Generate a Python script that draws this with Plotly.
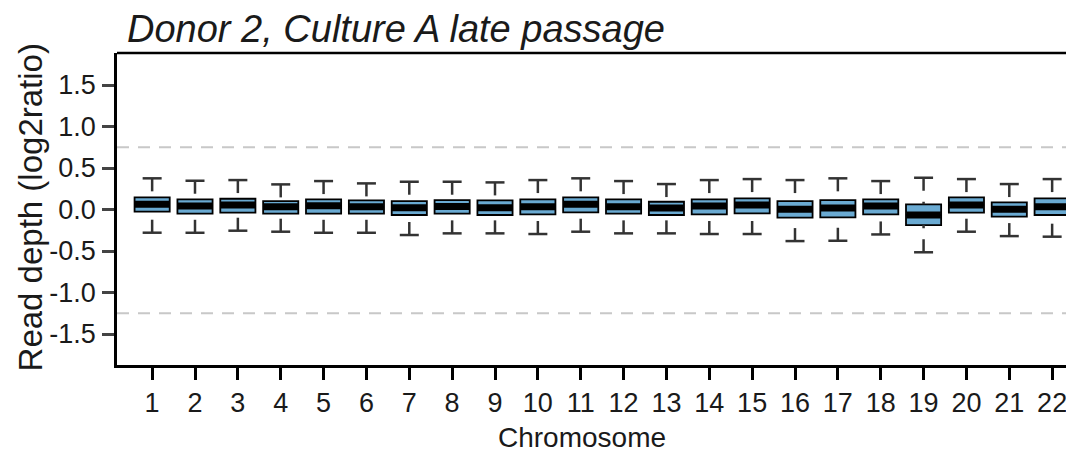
import plotly.graph_objects as go

# ---- data ----
chromosomes = list(range(1, 23))
tick_labels_x = [str(c) for c in chromosomes]
upper_whisker = [0.376, 0.347, 0.355, 0.303, 0.343, 0.315, 0.335, 0.335, 0.327, 0.355, 0.376,
                 0.343, 0.307, 0.355, 0.367, 0.355, 0.376, 0.343, 0.383, 0.367, 0.307, 0.367]
q3 = [0.147, 0.123, 0.130, 0.102, 0.123, 0.110, 0.102, 0.114, 0.110, 0.123, 0.147,
      0.123, 0.094, 0.123, 0.135, 0.102, 0.114, 0.123, 0.063, 0.147, 0.086, 0.135]
median = [0.063, 0.042, 0.054, 0.034, 0.046, 0.034, 0.022, 0.038, 0.022, 0.034, 0.063,
          0.034, 0.018, 0.042, 0.054, 0.002, 0.018, 0.042, -0.066, 0.054, 0.002, 0.034]
q1 = [-0.026, -0.050, -0.038, -0.050, -0.050, -0.050, -0.066, -0.050, -0.066, -0.058, -0.034,
      -0.050, -0.066, -0.058, -0.046, -0.098, -0.094, -0.058, -0.187, -0.038, -0.086, -0.066]
lower_whisker = [-0.279, -0.280, -0.255, -0.267, -0.280, -0.280, -0.307, -0.287, -0.287, -0.295, -0.267,
                 -0.287, -0.287, -0.295, -0.295, -0.380, -0.376, -0.300, -0.515, -0.267, -0.320, -0.327]
reference_levels = [0.75, -1.25]
y_tick_values = [1.5, 1.0, 0.5, 0.0, -0.5, -1.0, -1.5]
y_tick_labels = ["1.5", "1.0", "0.5", "0.0", "-0.5", "-1.0", "-1.5"]

FONT = "Liberation Sans, Arial, Helvetica, sans-serif"
BOX_FILL = "#6aaad2"
WHISKER = "#333333"
LINE_SYMBOL_SCALE = 1.4  # plotly draws line-ew symbols 1.4x the marker size

# the page body has an 8px default margin: size the figure so it fills the window
OFF = 8
W, H = 1074 - OFF, 453 - OFF
PLOT_L, PLOT_T, PLOT_B = 117 - OFF, 53 - OFF, 365 - OFF
PLOT_W, PLOT_H = W - PLOT_L, PLOT_B - PLOT_T

fig = go.Figure()

# boxes (hinges only; whiskers drawn separately in dashed R style)
fig.add_trace(go.Box(
    x=chromosomes, q1=q1, median=median, q3=q3,
    lowerfence=q1, upperfence=q3,
    width=0.82, fillcolor=BOX_FILL,
    line=dict(color="black", width=1.8),
    boxpoints=False, hoverinfo="skip",
))

# whisker stems (dashed, starting at the staple)
wx, wy = [], []
for c, uw, hi, lo, lw in zip(chromosomes, upper_whisker, q3, q1, lower_whisker):
    wx += [c, c, None, c, c, None]
    wy += [uw, hi, None, lw, lo, None]
fig.add_trace(go.Scatter(
    x=wx, y=wy, mode="lines",
    line=dict(color=WHISKER, width=2.5, dash="13px,11px"),
    hoverinfo="skip",
))

# staples
fig.add_trace(go.Scatter(
    x=chromosomes + chromosomes, y=upper_whisker + lower_whisker, mode="markers",
    marker=dict(symbol="line-ew", size=19 / LINE_SYMBOL_SCALE, color=WHISKER,
                line=dict(width=2.5, color=WHISKER)),
    hoverinfo="skip",
))

# thick median bands
fig.add_trace(go.Scatter(
    x=chromosomes, y=median, mode="markers",
    marker=dict(symbol="line-ew", size=34.5 / LINE_SYMBOL_SCALE, color="black",
                line=dict(width=7, color="black")),
    hoverinfo="skip",
))

# reference dashed lines
for lvl in reference_levels:
    fig.add_shape(type="line", xref="paper", x0=0, x1=1, yref="y", y0=lvl, y1=lvl,
                  line=dict(color="#c8c8c8", width=2, dash="12px,9px"), layer="below")

# top frame line
fig.add_shape(type="line", xref="paper", yref="paper", x0=0, x1=1, y0=1, y1=1,
              line=dict(color="black", width=2.5))

fig.update_layout(
    width=W, height=H,
    margin=dict(l=PLOT_L, r=0, t=PLOT_T, b=H - PLOT_B, autoexpand=False),
    paper_bgcolor="white", plot_bgcolor="white",
    showlegend=False,
    font=dict(family=FONT, color="#1a1a1a"),
    title=dict(text="Donor 2, Culture A late passage",
               font=dict(family=FONT, size=38, style="italic", color="#1a1a1a"),
               xref="container", x=(127 - OFF) / W, xanchor="left",
               yref="container", y=1 - (29 - OFF) / H, yanchor="middle"),
    xaxis=dict(range=[0.18, 22.51], tickvals=chromosomes, ticktext=tick_labels_x,
               showline=True, linecolor="black", linewidth=2.5,
               ticks="outside", ticklen=12, tickwidth=2.5, tickcolor="black",
               tickfont=dict(size=27, color="#1a1a1a"),
               showgrid=False, zeroline=False),
    yaxis=dict(range=[-1.873, 1.886], tickvals=y_tick_values, ticktext=y_tick_labels,
               showline=True, linecolor="black", linewidth=2.5,
               ticks="outside", ticklen=12, tickwidth=2.5, tickcolor="#444444",
               tickfont=dict(size=27, color="#1a1a1a"), ticklabelstandoff=1,
               showgrid=False, zeroline=False),
    annotations=[
        dict(text="Chromosome", xref="paper", yref="paper",
             x=(582 - 117) / PLOT_W, y=-(437 - 365) / PLOT_H, xanchor="center", yanchor="middle",
             showarrow=False, font=dict(size=28, color="#1a1a1a")),
        dict(text="Read depth (log2ratio)", xref="paper", yref="paper",
             x=-(117 - 30) / PLOT_W, y=0.505, xanchor="center", yanchor="middle",
             textangle=-90, showarrow=False, font=dict(size=33, color="#1a1a1a")),
    ],
)

fig.write_html("out.html")
